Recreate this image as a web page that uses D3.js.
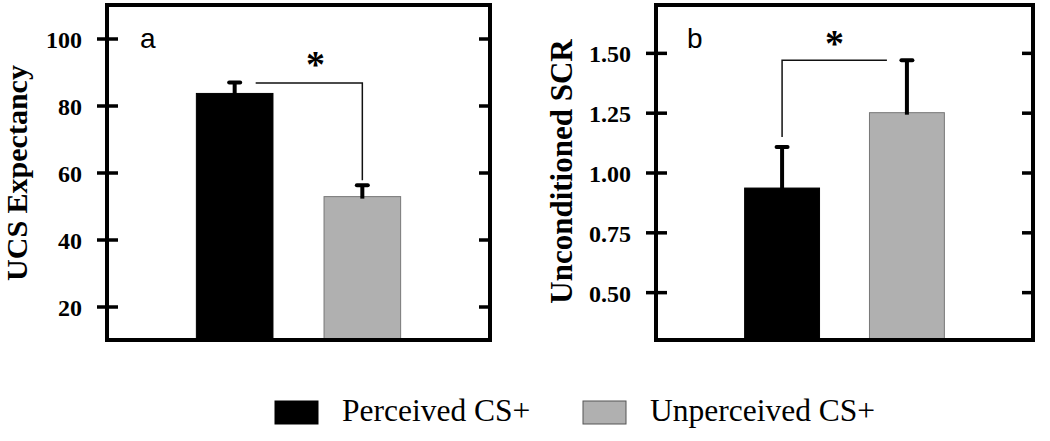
<!DOCTYPE html>
<html><head><meta charset="utf-8">
<script src="https://cdn.jsdelivr.net/npm/d3@7"></script>
<style>body{margin:0;background:#fff}</style>
</head><body>
<svg id="c" width="1050" height="441"></svg>
<script>
const groups = ["Perceived CS+", "Unperceived CS+"];
const colors = ["#000000", "#b0b0b0"];
const expectancyMean = [83.6, 52.8];
const expectancyErr = [3.3, 3.4];
const expectancyTicks = [20, 40, 60, 80, 100];
const scrMean = [0.935, 1.25];
const scrErr = [0.172, 0.219];
const scrTicks = [0.50, 0.75, 1.00, 1.25, 1.50];

const svg = d3.select("#c");
const serif = "'Liberation Serif','Times New Roman',serif";
const sans = "'Liberation Sans',Arial,sans-serif";

function panel(o) {
  const g = svg.append("g");
  const y = d3.scaleLinear().domain(o.domain).range([o.bottom, o.top]);
  const x = d3.scaleBand().domain(groups).range([o.left, o.right]).paddingInner(o.pi).paddingOuter(o.po);
  g.selectAll("rect.bar").data(groups).enter().append("rect")
    .attr("x", d => x(d)).attr("width", x.bandwidth())
    .attr("y", (d,i) => y(o.mean[i])).attr("height", (d,i) => o.bottom - y(o.mean[i]))
    .attr("fill", (d,i) => colors[i])
    .attr("stroke", (d,i) => i ? "#777" : "#000").attr("stroke-width", 1);
  groups.forEach((d,i) => {
    const cx = x(d) + x.bandwidth()/2;
    g.append("line").attr("x1", cx).attr("x2", cx)
      .attr("y1", y(o.mean[i]) + 2).attr("y2", y(o.mean[i] + o.err[i]))
      .attr("stroke", "#000").attr("stroke-width", 4);
    g.append("line").attr("x1", cx - 5.5).attr("x2", cx + 5.5)
      .attr("y1", y(o.mean[i] + o.err[i])).attr("y2", y(o.mean[i] + o.err[i]))
      .attr("stroke", "#000").attr("stroke-width", 4).attr("stroke-linecap", "round");
  });
  const ax = g.append("g").attr("transform", `translate(${o.left},0)`)
    .call(d3.axisLeft(y).tickValues(o.ticks).tickSize(0).tickPadding(25).tickFormat(o.fmt));
  ax.select(".domain").remove();
  ax.selectAll(".tick text").attr("font-family", serif).attr("font-weight", "bold")
    .attr("font-size", 24).attr("fill", "#000").attr("dy", "0.38em");
  ax.selectAll(".tick").append("line").attr("x1", -10).attr("x2", 11)
    .attr("stroke", "#000").attr("stroke-width", 3.5);
  const ar = g.append("g").attr("transform", `translate(${o.right},0)`)
    .call(d3.axisRight(y).tickValues(o.ticks).tickSize(0).tickFormat(""));
  ar.select(".domain").remove();
  ar.selectAll(".tick").append("line").attr("x1", -11).attr("x2", 0)
    .attr("stroke", "#000").attr("stroke-width", 3.5);
  g.append("rect").attr("x", o.left).attr("y", o.top).attr("width", o.right - o.left)
    .attr("height", o.bottom - o.top).attr("fill", "none").attr("stroke", "#000").attr("stroke-width", 4);
  g.append("text").attr("transform", `translate(${o.labelX},${o.labelY}) rotate(-90)`)
    .attr("text-anchor", "middle").attr("font-family", serif).attr("font-weight", "bold")
    .attr("font-size", o.labelSize).attr("fill", "#000").text(o.label);
  g.append("text").attr("x", o.left + o.letterDx).attr("y", 48).attr("font-family", sans)
    .attr("font-size", 28).attr("fill", "#000").text(o.letter);
  return {x, y, g};
}

const pa = panel({left: 107, right: 490, top: 5, bottom: 340, domain: [10, 110],
  ticks: expectancyTicks, fmt: d3.format("d"), mean: expectancyMean, err: expectancyErr,
  pi: 0.4, po: 0.7, label: "UCS Expectancy", labelX: 27, labelY: 173, labelSize: 30, letter: "a", letterDx: 33});
{
  const xa0 = pa.x(groups[0]) + pa.x.bandwidth()/2, xa1 = pa.x(groups[1]) + pa.x.bandwidth()/2;
  const yTop = pa.y(expectancyMean[0] + expectancyErr[0]);
  pa.g.append("path").attr("d", `M${xa0 + 21},${yTop + 0.5}H${xa1}V${pa.y(expectancyMean[1] + expectancyErr[1]) - 5}`)
    .attr("fill", "none").attr("stroke", "#111").attr("stroke-width", 1.5);
  pa.g.append("text").attr("x", (xa0 + xa1)/2 + 17).attr("y", 77).attr("text-anchor", "middle")
    .attr("font-family", serif).attr("font-weight", "bold").attr("font-size", 38).text("*");
}

const pb = panel({left: 656, right: 1033, top: 5, bottom: 340, domain: [0.3, 1.7],
  ticks: scrTicks, fmt: d3.format(".2f"), mean: scrMean, err: scrErr,
  pi: 0.4, po: 0.71, label: "Unconditioned SCR", labelX: 572, labelY: 171.5, labelSize: 31, letter: "b", letterDx: 31});
{
  const xb0 = pb.x(groups[0]) + pb.x.bandwidth()/2, xb1 = pb.x(groups[1]) + pb.x.bandwidth()/2;
  const yTop = pb.y(scrMean[1] + scrErr[1]);
  pb.g.append("path").attr("d", `M${xb0},${pb.y(scrMean[0] + scrErr[0]) - 10}V${yTop}H${xb1 - 20}`)
    .attr("fill", "none").attr("stroke", "#111").attr("stroke-width", 1.5);
  pb.g.append("text").attr("x", (xb0 + xb1)/2 - 10).attr("y", 56).attr("text-anchor", "middle")
    .attr("font-family", serif).attr("font-weight", "bold").attr("font-size", 38).text("*");
}

const leg = svg.append("g");
const legX = [275, 583];
groups.forEach((d,i) => {
  leg.append("rect").attr("x", legX[i]).attr("y", 401).attr("width", 43).attr("height", 23)
    .attr("fill", colors[i]).attr("stroke", i ? "#555" : "#000").attr("stroke-width", 1);
  leg.append("text").attr("x", legX[i] + 67).attr("y", 421).attr("font-family", serif)
    .attr("font-size", 31.5).attr("fill", "#000").text(d);
});
</script>
</body></html>
